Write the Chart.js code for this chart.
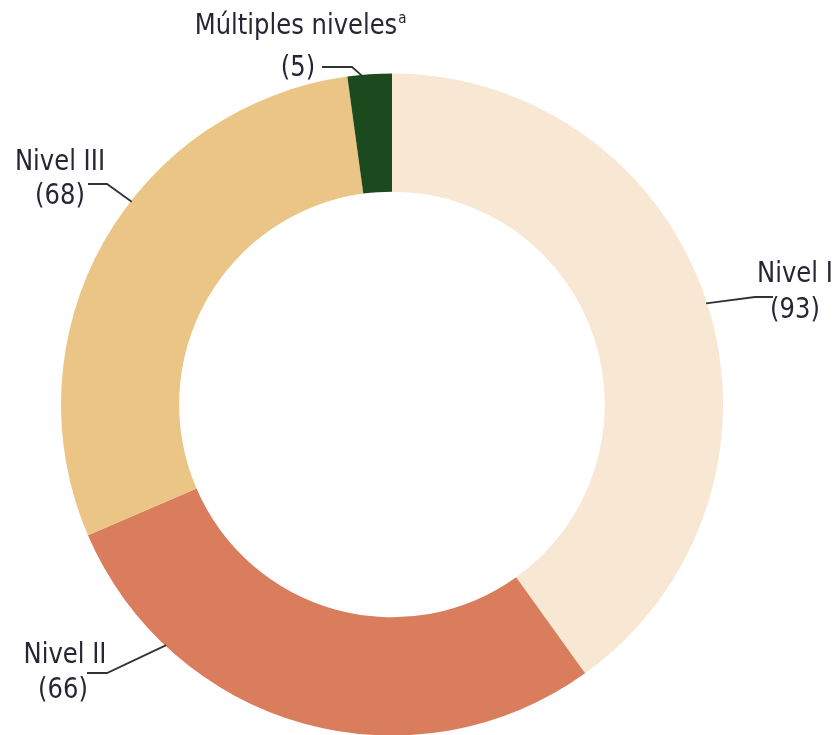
<!DOCTYPE html>
<html>
<head>
<meta charset="utf-8">
<script src="https://cdn.jsdelivr.net/npm/chart.js@4"></script>
<style>
  html, body { margin: 0; padding: 0; background: #fff; }
  #wrap { width: 838px; height: 735px; }
</style>
</head>
<body>
<div id="wrap"><canvas id="chart"></canvas></div>
<script>
// Data
const categories = ["Nivel I", "Nivel II", "Nivel III", "Múltiples niveles"];
const counts = [93, 66, 68, 5];
const sliceColors = ["#F8E7D3", "#D97D5D", "#EBC585", "#1C4A1F"];

// Label layout: where on the slice the leader starts (fraction of the arc),
// elbow / end points of the leader, and text centre
const labelLayout = [
  { frac: 0.5,  elbow: [755, 297], end: [773, 297], text: [795, 274], sub: [795, 310] },
  { frac: 0.77, elbow: [107, 673], end: [87, 673],  text: [65, 655],  sub: [63, 690] },
  { frac: 0.58, elbow: [107, 184], end: [88, 184],  text: [60, 162],  sub: [60, 196] },
  { frac: 0.33, elbow: [352, 67],  end: [322, 67],  text: [296, 26],  sub: [298, 68] }
];

const FONT = '"DejaVu Sans Condensed", "Liberation Sans Narrow", sans-serif';
const TEXT_COLOR = "#262635";
const SQUEEZE = 0.93; // the original face is narrower than DejaVu Condensed

// draw centred text squeezed horizontally
function narrowText(ctx, str, x, y) {
  ctx.save();
  ctx.translate(x, y);
  ctx.scale(SQUEEZE, 1);
  ctx.fillText(str, 0, 0);
  ctx.restore();
}

const leaderLabels = {
  id: "leaderLabels",
  afterDatasetsDraw(chart) {
    const ctx = chart.ctx;
    const arcs = chart.getDatasetMeta(0).data;
    ctx.save();
    arcs.forEach((arc, i) => {
      const lay = labelLayout[i];
      const p = arc.getProps(["x", "y", "startAngle", "endAngle", "outerRadius"], true);
      const a = p.startAngle + lay.frac * (p.endAngle - p.startAngle);
      const ax = p.x + Math.cos(a) * (p.outerRadius - 1);
      const ay = p.y + Math.sin(a) * (p.outerRadius - 1);

      ctx.strokeStyle = "#333";
      ctx.lineWidth = 1.8;
      ctx.beginPath();
      ctx.moveTo(ax, ay);
      ctx.lineTo(lay.elbow[0], lay.elbow[1]);
      ctx.lineTo(lay.end[0], lay.end[1]);
      ctx.stroke();

      ctx.fillStyle = TEXT_COLOR;
      ctx.textBaseline = "middle";
      ctx.textAlign = "center";
      ctx.font = "29px " + FONT;
      const name = categories[i];
      narrowText(ctx, name, lay.text[0], lay.text[1]);
      if (i === 3) {
        const w = ctx.measureText(name).width * SQUEEZE;
        ctx.font = "15px " + FONT;
        ctx.textAlign = "left";
        ctx.fillText("a", lay.text[0] + w / 2 + 1, lay.text[1] - 7);
        ctx.textAlign = "center";
        ctx.font = "29px " + FONT;
      }
      narrowText(ctx, "(" + counts[i] + ")", lay.sub[0], lay.sub[1]);
    });
    ctx.restore();
  }
};

new Chart(document.getElementById("chart"), {
  type: "doughnut",
  data: {
    labels: categories,
    datasets: [{
      data: counts,
      backgroundColor: sliceColors,
      borderWidth: 0
    }]
  },
  options: {
    responsive: true,
    maintainAspectRatio: false,
    animation: false,
    radius: 331,
    cutout: "64.3%",
    layout: { padding: { left: 0, right: 54, top: 74, bottom: 0 } },
    plugins: {
      legend: { display: false },
      tooltip: { enabled: false }
    }
  },
  plugins: [leaderLabels]
});
</script>
</body>
</html>
